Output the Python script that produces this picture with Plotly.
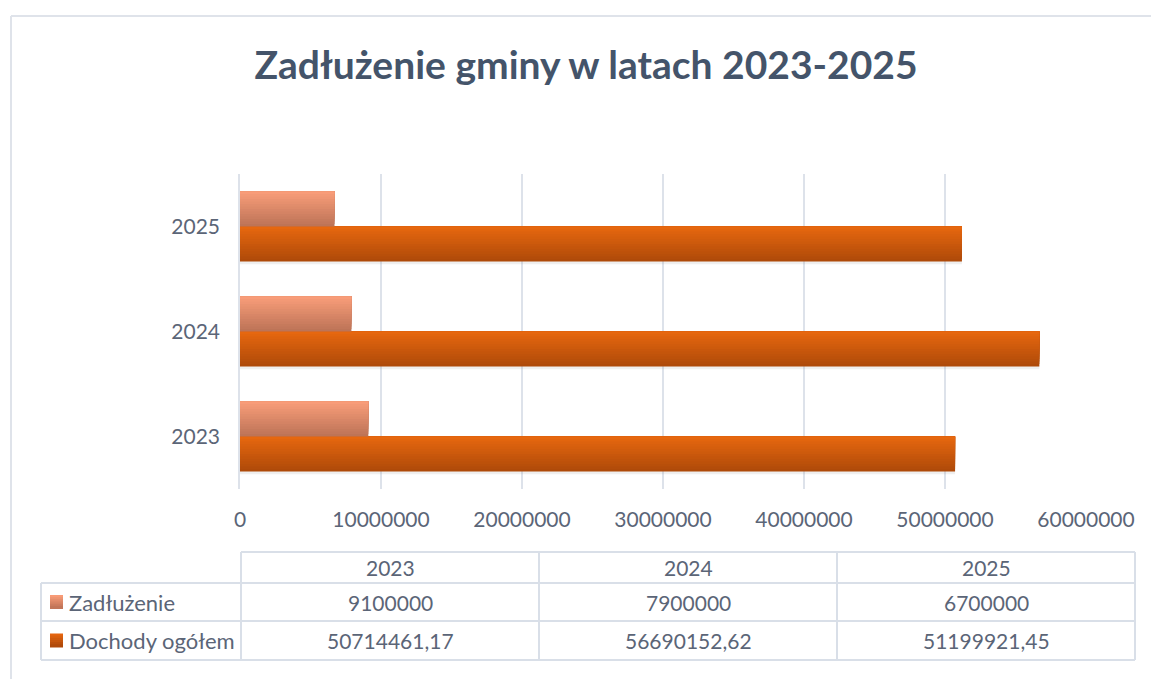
import plotly.graph_objects as go

# ---- data ----
years = ["2023", "2024", "2025"]
zadluzenie = [9100000, 7900000, 6700000]
dochody = [50714461.17, 56690152.62, 51199921.45]
series_names = ["Zadłużenie", "Dochody ogółem"]
title_text = "Zadłużenie gminy w latach 2023-2025"

W, H = 1151, 679
FONT = "Lato"
TXT = "#5b6577"
GRID = "#dde2ea"


def px(x):
    return x / W


def py(y):
    return 1 - y / H


def hexmix(c1, c2, t):
    a = [int(c1[i:i + 2], 16) for i in (1, 3, 5)]
    b = [int(c2[i:i + 2], 16) for i in (1, 3, 5)]
    return "#" + "".join(f"{round(a[k] + (b[k] - a[k]) * t):02x}" for k in range(3))


def fmt(v):
    if float(v).is_integer():
        return str(int(v))
    return f"{v:.2f}".replace(".", ",")


fig = go.Figure()

N = 14
bw = 1 / 3
grad = {
    "Dochody ogółem": ("#e8680f", "#ad4909", -bw),
    "Zadłużenie": ("#fa9e7a", "#bb7256", 0.0),
}
for name, vals in (("Dochody ogółem", dochody), ("Zadłużenie", zadluzenie)):
    top, bot, base = grad[name]
    fig.add_trace(go.Bar(
        y=years, x=vals, orientation="h", width=bw, offset=base - 0.025,
        marker=dict(color="rgba(120,120,120,0.12)", line=dict(width=0)),
        showlegend=False, hoverinfo="skip"))
for name, vals in (("Dochody ogółem", dochody), ("Zadłużenie", zadluzenie)):
    top, bot, base = grad[name]
    for i in range(N):
        t = 1 - (i + 0.5) / N
        fig.add_trace(go.Bar(
            y=years, x=vals, orientation="h", width=bw - i * bw / N,
            offset=base + i * bw / N,
            marker=dict(color=hexmix(top, bot, t), line=dict(width=0)),
            showlegend=False, name=name, hoverinfo="skip"))

x0, x1 = 240, 1086
y0, y1 = 174, 489
fig.update_layout(
    width=W, height=H,
    margin=dict(l=0, r=0, t=0, b=0, autoexpand=False),
    paper_bgcolor="white", plot_bgcolor="white",
    barmode="overlay",
    font=dict(family=FONT, color=TXT, size=21),
    xaxis=dict(domain=[px(x0), px(x1)], range=[0, 60000000], dtick=10000000,
               tickformat="d", showgrid=True, gridcolor=GRID, gridwidth=1.5,
               zeroline=False, showline=False, ticks="", ticklabelstandoff=16,
               automargin=False,
               tickfont=dict(size=21, color=TXT, family=FONT), fixedrange=True),
    yaxis=dict(domain=[py(y1), py(y0)], type="category", categoryorder="array",
               categoryarray=years, range=[-0.5, 2.5], showgrid=False,
               showline=True, linecolor=GRID, linewidth=1.5, ticks="",
               automargin=False,
               ticklabelstandoff=14, tickfont=dict(size=21, color=TXT, family=FONT)),
    title=dict(text=f"<b>{title_text}</b>", x=px(586), xanchor="center",
               y=py(65), yanchor="middle", automargin=False,
               font=dict(family=FONT, size=39, color="#44546a")),
)

shapes = []
shapes.append(dict(type="line", xref="paper", yref="paper", x0=px(11), x1=1.0,
                   y0=py(16), y1=py(16), line=dict(color="#dfe3ea", width=2)))
shapes.append(dict(type="line", xref="paper", yref="paper", x0=px(11), x1=px(11),
                   y0=py(16), y1=0, line=dict(color="#dfe3ea", width=2)))

cols = [241, 539, 837, 1135]
rows = [552, 583, 621, 660]
tleft = 41
LC = "#d9dfe8"


def hline(xa, xb, y):
    shapes.append(dict(type="line", xref="paper", yref="paper", x0=px(xa), x1=px(xb),
                       y0=py(y), y1=py(y), line=dict(color=LC, width=2)))


def vline(x, ya, yb):
    shapes.append(dict(type="line", xref="paper", yref="paper", x0=px(x), x1=px(x),
                       y0=py(ya), y1=py(yb), line=dict(color=LC, width=2)))


hline(cols[0], cols[-1], rows[0])
for r in rows[1:]:
    hline(tleft, cols[-1], r)
vline(tleft, rows[1], rows[-1])
for c in cols:
    vline(c, rows[0], rows[-1])

annotations = []
for j, yr in enumerate(years):
    cx = (cols[j] + cols[j + 1]) / 2
    annotations.append(dict(x=px(cx), y=py((rows[0] + rows[1]) / 2), xref="paper",
                            yref="paper", text=yr, showarrow=False,
                            xanchor="center", yanchor="middle",
                            font=dict(size=21, color=TXT, family=FONT)))
table_rows = [(series_names[0], zadluzenie, ("#f89b77", "#c27659")),
              (series_names[1], dochody, ("#e4650f", "#b04a0a"))]
for i, (nm, vals, (ctop, cbot)) in enumerate(table_rows):
    ry0, ry1 = rows[i + 1], rows[i + 2]
    cy = (ry0 + ry1) / 2
    ks = 13
    steps = 6
    for k in range(steps):
        t = k / (steps - 1)
        shapes.append(dict(type="rect", xref="paper", yref="paper",
                           x0=px(50), x1=px(50 + ks),
                           y0=py(cy - ks / 2 + k * ks / steps - 0.5),
                           y1=py(cy - ks / 2 + (k + 1) * ks / steps + 0.5),
                           fillcolor=hexmix(ctop, cbot, t), line=dict(width=0)))
    annotations.append(dict(x=px(67), y=py(cy), xref="paper", yref="paper",
                            text=nm, showarrow=False, xanchor="left", yanchor="middle",
                            font=dict(size=22, color=TXT, family=FONT)))
    for j, v in enumerate(vals):
        cx = (cols[j] + cols[j + 1]) / 2
        annotations.append(dict(x=px(cx), y=py(cy), xref="paper", yref="paper",
                                text=fmt(v), showarrow=False,
                                xanchor="center", yanchor="middle",
                                font=dict(size=21, color=TXT, family=FONT)))

fig.update_layout(shapes=shapes, annotations=annotations)
fig.write_html("out.html", config={"displayModeBar": False},
               post_script="document.body.style.margin='0';"
                           "document.body.style.overflow='hidden';"
                           "document.documentElement.style.overflow='hidden';")
